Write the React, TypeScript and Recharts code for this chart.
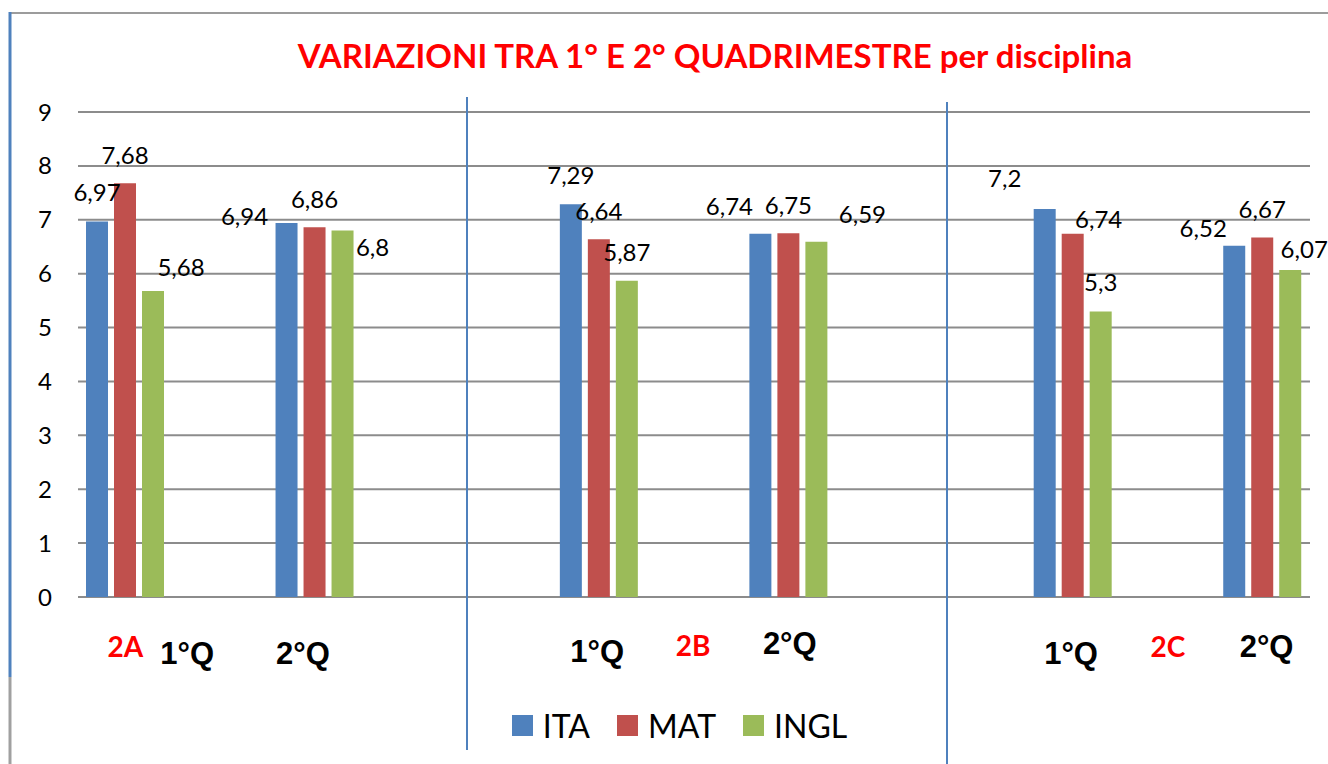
import { BarChart, Bar, XAxis, YAxis, CartesianGrid, Legend, LabelList } from "recharts"

// 13 slots on the category axis; "" marks an empty spacer slot
const slots = ["2A-1Q", "", "2A-2Q", "", "", "2B-1Q", "", "2B-2Q", "", "", "2C-1Q", "", "2C-2Q"]
const tickLabels = ["2A", "1°Q", "2°Q", "", "", "1°Q", "2B", "2°Q", "", "", "1°Q", "2C", "2°Q"]
const classLabels = ["2A", "2B", "2C"]

const itaValues = [6.97, 6.94, 7.29, 6.74, 7.2, 6.52]
const matValues = [7.68, 6.86, 6.64, 6.75, 6.74, 6.67]
const inglValues = [5.68, 6.8, 5.87, 6.59, 5.3, 6.07]
const yTicks = [0, 1, 2, 3, 4, 5, 6, 7, 8, 9]

const colors = { ITA: "#4f81bd", MAT: "#c0504d", INGL: "#9bbb59" }

// label nudges (dx from bar centre, baseline relative to bar top), one per group
const labelNudge: Record<string, [number, number][]> = {
  ITA: [[0, -20], [-42, 2], [0, -20], [-31, -19], [-40, -22], [-31, -9]],
  MAT: [[0, -19], [0, -19], [0, -19], [0, -19], [26, -6], [0, -20]],
  INGL: [[28, -15], [30, 25], [0, -20], [46, -19], [0, -20], [14, -12]],
}
// tick nudges per slot: dx, baseline below axis
const tickNudge: [number, number][] = [
  [0, 60], [-33, 67], [-12, 67], [0, 0], [0, 0], [-2, 65], [-1, 59], [1, 57], [0, 0], [0, 0], [-2, 67], [0, 60], [4, 60],
]

let g = -1
const data = slots.map((s, i) => {
  if (!s) return { slot: "s" + i, ITA: null, MAT: null, INGL: null }
  g += 1
  return { slot: s, ITA: itaValues[g], MAT: matValues[g], INGL: inglValues[g] }
})

const fmt = (v: number) => String(v).replace(".", ",")

// empty slots carry no bar, so the label index runs over the 6 groups
const makeLabel = (key: string) => (props: any) => {
  const vb = props.viewBox ?? props
  const { x, y, width } = vb
  const { value, index } = props
  if (value == null || index == null) return null
  const nudge = labelNudge[key][index]
  if (!nudge) return null
  const [dx, dy] = nudge
  return (
    <text x={x + width / 2 + dx} y={y + dy} textAnchor="middle" fontSize={24} fontFamily="Lato" fill="#000">
      {fmt(value)}
    </text>
  )
}

const XTick = (props: any) => {
  const { x, y } = props
  const i = props.index ?? props.payload?.index
  const label = tickLabels[i]
  if (!label) return null
  const [dx, dy] = tickNudge[i]
  const isClass = classLabels.includes(label)
  return (
    <text
      x={x + dx}
      y={y + dy}
      textAnchor="middle"
      fontSize={isClass ? 28 : 31}
      fontWeight="bold"
      fontFamily={isClass ? "Lato" : "Liberation Sans"}
      fill={isClass ? "#ff0000" : "#000"}
    >
      {label}
    </text>
  )
}

const LegendContent = () => (
  <div
    style={{
      height: 40,
      display: "flex",
      justifyContent: "center",
      alignItems: "center",
      paddingLeft: 76,
      fontFamily: "Lato",
      fontSize: 32,
      color: "#000",
    }}
  >
    {Object.entries(colors).map(([name, c]) => (
      <span key={name} style={{ display: "flex", alignItems: "center", marginRight: 27 }}>
        <span style={{ width: 21, height: 21, background: c, marginRight: 10, display: "inline-block" }} />
        {name}
      </span>
    ))}
  </div>
)

export default function App() {
  return (
    <div style={{ position: "absolute", left: 0, top: 0, width: 1328, height: 764, background: "#fff", fontFamily: "Lato" }}>
      <BarChart
        width={1328}
        height={764}
        data={data}
        margin={{ top: 112, right: 18, bottom: 19, left: 0 }}
        barSize={22}
        barGap={6}
      >
        <CartesianGrid vertical={false} stroke="#8c8c8c" strokeWidth={2} />
        <XAxis dataKey="slot" height={108} tickLine={false} axisLine={false} tickSize={0} tickMargin={0} interval={0} tick={<XTick />} />
        <YAxis
          width={78}
          domain={[0, 9]}
          ticks={yTicks}
          tickLine={false}
          axisLine={false}
          tickSize={0}
          tickMargin={26}
          tick={{ fill: "#000", fontSize: 24, fontFamily: "Lato" }}
        />
        <Legend verticalAlign="bottom" content={<LegendContent />} />
        {Object.entries(colors).map(([key, c]) => (
          <Bar key={key} dataKey={key} fill={c} isAnimationActive={false}>
            <LabelList dataKey={key} content={makeLabel(key)} />
          </Bar>
        ))}
      </BarChart>
      <svg width={1328} height={764} style={{ position: "absolute", left: 0, top: 0, pointerEvents: "none" }}>
        <line x1={9} y1={13} x2={1328} y2={13} stroke="#9c9c9c" strokeWidth={2} />
        <line x1={10} y1={12} x2={10} y2={677} stroke="#4f81bd" strokeWidth={3} />
        <line x1={10} y1={677} x2={10} y2={764} stroke="#a0a0a0" strokeWidth={3} />
        <line x1={467} y1={97} x2={467} y2={750} stroke="#4f81bd" strokeWidth={2} />
        <line x1={947} y1={102} x2={947} y2={764} stroke="#4f81bd" strokeWidth={2} />
        <text x={715} y={68} textAnchor="middle" fontFamily="Lato" fontWeight="bold" fontSize={33} fill="#ff0000">
          VARIAZIONI TRA 1° E 2° QUADRIMESTRE per disciplina
        </text>
      </svg>
    </div>
  )
}
